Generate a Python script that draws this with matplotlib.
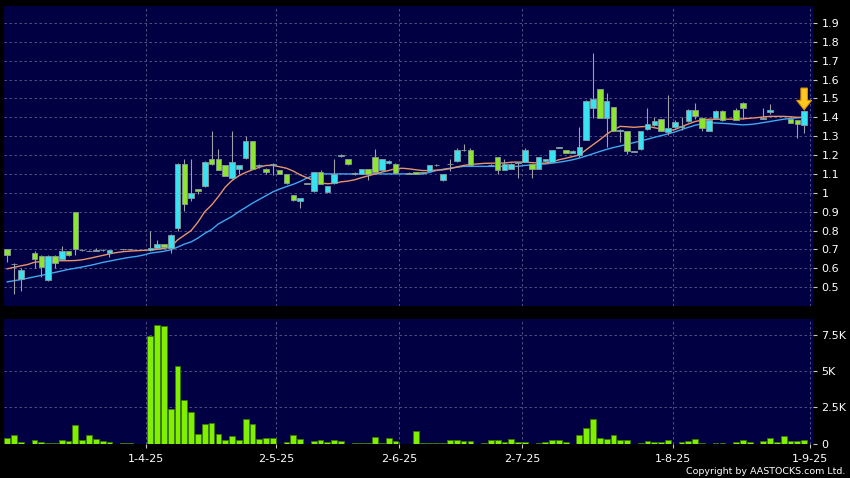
import matplotlib
matplotlib.use('Agg')
import matplotlib.pyplot as plt
import numpy as np

# daily bars, None = no candle that day
opens = [0.70, 0.62, 0.545, None, 0.68, 0.665, 0.54, 0.665, 0.65, 0.69,
         0.90, 0.695, 0.69, 0.69, 0.695, 0.68, None, 0.70, 0.70, None,
         None, 0.695, 0.705, 0.73, 0.705, 0.815, 1.155, 0.975, 1.02, 1.035,
         1.18, 1.18, 1.145, 1.08, 1.125, 1.185, 1.275, 1.14, 1.125, 1.148,
         1.12, 1.10, 0.99, 0.955, 1.05, 1.01, 1.11, 1.005, 1.05, 1.195,
         1.18, 1.10, 1.10, 1.125, 1.19, 1.12, 1.16, 1.155, None, 1.107,
         1.11, 1.105, 1.115, 1.145, 1.07, 1.15, 1.17, 1.225, 1.225, None,
         None, 1.147, 1.19, 1.12, 1.125, 1.16, 1.165, 1.155, 1.125, 1.17,
         1.165, 1.24, 1.225, 1.21, 1.20, 1.28, 1.45, 1.55, 1.395, 1.455,
         1.33, 1.325, 1.217, 1.23, 1.34, 1.36, 1.39, 1.32, 1.35, 1.35,
         1.38, 1.44, 1.395, 1.325, 1.395, 1.435, None, 1.44, 1.475, None,
         None, 1.392, 1.43, None, None, 1.39, 1.385, 1.36]
highs = [0.70, 0.63, 0.60, None, 0.694, 0.67, 0.67, 0.67, 0.72, 0.69,
         0.90, 0.70, 0.695, 0.71, 0.70, 0.695, None, 0.70, 0.70, None,
         None, 0.80, 0.75, 0.73, 0.78, 1.16, 1.18, 1.18, 1.02, 1.17,
         1.325, 1.23, 1.145, 1.325, 1.145, 1.30, 1.275, 1.15, 1.13, 1.16,
         1.12, 1.10, 0.99, 0.975, 1.05, 1.11, 1.122, 1.035, 1.18, 1.205,
         1.18, 1.11, 1.125, 1.125, 1.23, 1.18, 1.175, 1.16, None, 1.11,
         1.11, 1.11, 1.147, 1.15, 1.10, 1.18, 1.235, 1.26, 1.235, None,
         None, 1.15, 1.19, 1.18, 1.16, 1.165, 1.237, 1.155, 1.19, 1.18,
         1.225, 1.245, 1.225, 1.225, 1.35, 1.49, 1.74, 1.55, 1.53, 1.455,
         1.34, 1.325, 1.217, 1.325, 1.45, 1.40, 1.39, 1.52, 1.385, 1.40,
         1.445, 1.475, 1.40, 1.39, 1.44, 1.44, None, 1.45, 1.48, None,
         None, 1.45, 1.47, None, None, 1.39, 1.385, 1.44]
lows = [0.635, 0.465, 0.477, None, 0.60, 0.555, 0.535, 0.60, 0.645, 0.665,
        0.67, 0.69, 0.69, 0.69, 0.69, 0.66, None, 0.695, 0.695, None,
        None, 0.69, 0.70, 0.70, 0.68, 0.80, 0.905, 0.955, 0.995, 1.03,
        1.145, 1.12, 1.09, 1.075, 1.10, 1.18, 1.125, 1.13, 1.10, 1.095,
        1.10, 1.045, 0.955, 0.92, 1.045, 1.005, 1.045, 1.0, 1.045, 1.19,
        1.148, 1.095, 1.10, 1.07, 1.11, 1.12, 1.155, 1.105, None, 1.10,
        1.10, 1.10, 1.113, 1.14, 1.065, 1.113, 1.165, 1.22, 1.145, None,
        None, 1.14, 1.10, 1.12, 1.125, 1.078, 1.165, 1.076, 1.125, 1.165,
        1.165, 1.235, 1.21, 1.21, 1.19, 1.28, 1.395, 1.395, 1.245, 1.33,
        1.27, 1.207, 1.215, 1.225, 1.335, 1.355, 1.33, 1.305, 1.345, 1.335,
        1.375, 1.39, 1.33, 1.325, 1.395, 1.38, None, 1.385, 1.39, None,
        None, 1.39, 1.415, None, None, 1.37, 1.29, 1.316]
closes = [0.67, 0.625, 0.59, None, 0.648, 0.605, 0.665, 0.63, 0.69, 0.67,
          0.70, 0.695, 0.69, 0.695, 0.695, 0.695, None, 0.70, 0.70, None,
          None, 0.705, 0.73, 0.715, 0.775, 1.155, 0.94, 1.0, 1.01, 1.165,
          1.15, 1.12, 1.09, 1.165, 1.145, 1.275, 1.125, 1.145, 1.11, 1.15,
          1.10, 1.05, 0.96, 0.975, 1.048, 1.11, 1.045, 1.035, 1.10, 1.20,
          1.15, 1.105, 1.125, 1.10, 1.11, 1.18, 1.17, 1.105, None, 1.10,
          1.10, 1.105, 1.145, 1.147, 1.10, 1.155, 1.225, 1.225, 1.145, None,
          None, 1.145, 1.12, 1.155, 1.155, 1.16, 1.225, 1.125, 1.19, 1.18,
          1.225, 1.245, 1.21, 1.22, 1.245, 1.485, 1.495, 1.395, 1.485, 1.33,
          1.335, 1.22, 1.217, 1.325, 1.365, 1.38, 1.33, 1.345, 1.375, 1.352,
          1.44, 1.405, 1.345, 1.385, 1.435, 1.385, None, 1.385, 1.45, None,
          None, 1.392, 1.44, None, None, 1.37, 1.365, 1.435]
# volume in thousands
volumes = [0.39, 0.62, 0.12, 0, 0.23, 0.09, 0.07, 0.07, 0.23, 0.16,
           1.27, 0.23, 0.58, 0.30, 0.16, 0.14, 0, 0.02, 0.07, 0,
           0, 7.43, 8.19, 8.12, 2.38, 5.35, 3.0, 2.15, 0.67, 1.36,
           1.41, 0.65, 0.25, 0.55, 0.25, 1.68, 1.38, 0.30, 0.39, 0.39,
           0, 0.14, 0.62, 0.30, 0, 0.18, 0.25, 0.09, 0.25, 0.16,
           0, 0.07, 0.07, 0.07, 0.46, 0.07, 0.37, 0.16, 0, 0,
           0.85, 0.02, 0.05, 0.02, 0.02, 0.23, 0.23, 0.16, 0.16, 0,
           0.07, 0.23, 0.23, 0.12, 0.30, 0.12, 0.12, 0, 0.07, 0.12,
           0.23, 0.28, 0.12, 0, 0.58, 1.08, 1.68, 0.39, 0.30, 0.62,
           0.25, 0.25, 0, 0.07, 0.21, 0.12, 0.09, 0.23, 0, 0.12,
           0.16, 0.30, 0.05, 0, 0.07, 0.07, 0, 0.09, 0.23, 0.12,
           0, 0.18, 0.35, 0.09, 0.53, 0.16, 0.16, 0.28]
ma10 = [0.597, 0.605, 0.613, 0.620, 0.632, 0.636, 0.638, 0.639, 0.640, 0.640,
        0.641, 0.645, 0.652, 0.660, 0.668, 0.676, 0.683, 0.688, 0.691, 0.693,
        0.695, 0.697, 0.700, 0.705, 0.712, 0.750, 0.775, 0.800, 0.845, 0.900,
        0.935, 0.980, 1.030, 1.065, 1.090, 1.108, 1.122, 1.135, 1.145, 1.145,
        1.138, 1.130, 1.115, 1.095, 1.080, 1.065, 1.052, 1.048, 1.050, 1.058,
        1.062, 1.069, 1.080, 1.090, 1.100, 1.110, 1.118, 1.128, 1.130, 1.127,
        1.122, 1.118, 1.118, 1.120, 1.122, 1.128, 1.137, 1.145, 1.150, 1.153,
        1.156, 1.157, 1.157, 1.158, 1.162, 1.163, 1.162, 1.160, 1.158, 1.157,
        1.165, 1.175, 1.183, 1.192, 1.200, 1.228, 1.255, 1.281, 1.310, 1.334,
        1.352, 1.350, 1.347, 1.350, 1.352, 1.345, 1.338, 1.328, 1.335, 1.350,
        1.365, 1.378, 1.385, 1.390, 1.390, 1.390, 1.390, 1.390, 1.392, 1.395,
        1.398, 1.402, 1.405, 1.405, 1.405, 1.403, 1.400, 1.400]
ma20 = [0.528, 0.534, 0.540, 0.547, 0.555, 0.562, 0.570, 0.578, 0.586, 0.594,
        0.600, 0.607, 0.614, 0.622, 0.631, 0.638, 0.645, 0.652, 0.658, 0.663,
        0.670, 0.680, 0.685, 0.690, 0.698, 0.712, 0.728, 0.740, 0.760, 0.785,
        0.805, 0.835, 0.855, 0.875, 0.900, 0.922, 0.945, 0.965, 0.985, 1.005,
        1.020, 1.033, 1.045, 1.060, 1.078, 1.092, 1.100, 1.100, 1.100, 1.100,
        1.100, 1.100, 1.100, 1.100, 1.100, 1.100, 1.100, 1.100, 1.100, 1.100,
        1.100, 1.100, 1.108, 1.118, 1.125, 1.130, 1.135, 1.140, 1.140, 1.140,
        1.140, 1.140, 1.140, 1.140, 1.140, 1.140, 1.145, 1.147, 1.150, 1.153,
        1.157, 1.162, 1.168, 1.175, 1.184, 1.195, 1.207, 1.219, 1.230, 1.240,
        1.248, 1.257, 1.266, 1.275, 1.284, 1.294, 1.303, 1.312, 1.322, 1.335,
        1.347, 1.358, 1.366, 1.372, 1.370, 1.368, 1.366, 1.363, 1.360, 1.362,
        1.366, 1.372, 1.378, 1.384, 1.390, 1.394, 1.397, 1.400]

dateTicks = [20.4, 39.5, 57.5, 75.6, 97.7, 117.8]
dateLabels = ['1-4-25', '2-5-25', '2-6-25', '2-7-25', '1-8-25', '1-9-25']
priceTicks = [0.5, 0.6, 0.7, 0.8, 0.9, 1.0, 1.1, 1.2, 1.3, 1.4, 1.5, 1.6, 1.7, 1.8, 1.9]
volTicks = [0, 2.5, 5, 7.5]
volLabels = ['0', '2.5K', '5K', '7.5K']

bgColor = '#000042'
gridColor = '#5c5c8c'
upColor = '#38e2f0'
downColor = '#8ce62c'


def styleAxis(ax):
    ax.set_facecolor(bgColor)
    for s in ax.spines.values():
        s.set_visible(False)
    ax.yaxis.tick_right()
    ax.tick_params(axis='y', colors='#c8c8c8', labelcolor='white', length=3,
                   width=0.8, pad=3, labelsize=8)
    ax.grid(True, color=gridColor, linestyle=(0, (3, 3)), linewidth=0.6)
    ax.set_axisbelow(True)
    ax.set_xlim(-0.48, 118.3)
    ax.set_xticks(dateTicks)


fig = plt.figure(figsize=(8.5, 4.78), dpi=100)
fig.patch.set_facecolor('black')

axPrice = fig.add_axes([4 / 850, 1 - 306 / 478, 809 / 850, 300 / 478])
axVol = fig.add_axes([4 / 850, 1 - 444 / 478, 809 / 850, 125 / 478])

o = np.array(opens, dtype=float)
h = np.array(highs, dtype=float)
l = np.array(lows, dtype=float)
c = np.array(closes, dtype=float)
x = np.arange(len(o))
ok = ~np.isnan(o)

styleAxis(axPrice)
axPrice.set_ylim(0.40, 1.99)
axPrice.set_yticks(priceTicks)
axPrice.set_yticklabels(['%g' % p for p in priceTicks])
axPrice.tick_params(axis='x', length=0, labelbottom=False)

# moving averages
axPrice.plot(x, ma20, color='#3fa8f0', linewidth=1.0, zorder=2)
axPrice.plot(x, ma10, color='#e8946a', linewidth=1.0, zorder=2)

# candles
axPrice.vlines(x[ok], l[ok], h[ok], color='#a0a0a8', linewidth=0.8, zorder=3)
colors = [upColor if cc >= oo else downColor for oo, cc in zip(o[ok], c[ok])]
bodyLow = np.minimum(o[ok], c[ok])
bodyH = np.maximum(np.abs(c[ok] - o[ok]), 0.004)
axPrice.bar(x[ok], bodyH, bottom=bodyLow, width=0.82, color=colors,
            edgecolor='#8a9a9a', linewidth=0.6, zorder=4)

# marker arrow over the last bar
axPrice.arrow(x[-1], 1.555, 0, -0.115, width=0.95, head_width=2.2, head_length=0.05,
              length_includes_head=True, fc='#ffc81e', ec='#e09000', linewidth=0.8, zorder=5)

styleAxis(axVol)
axVol.set_ylim(-0.03, 8.6)
axVol.set_yticks(volTicks)
axVol.set_yticklabels(volLabels)
axVol.set_xticklabels(dateLabels)
axVol.tick_params(axis='x', colors='#c8c8c8', labelcolor='white', length=3,
                  width=0.8, pad=4, labelsize=8)
axVol.bar(x, volumes, width=0.85, color='#80f000', edgecolor='#3c7800',
          linewidth=0.6, zorder=3)

fig.text(845 / 850, 1 - 471 / 478, 'Copyright by AASTOCKS.com Ltd.', color='white',
         fontsize=6.8, ha='right', va='center')

plt.savefig('out.png', dpi=100, facecolor=fig.get_facecolor())
plt.close()
